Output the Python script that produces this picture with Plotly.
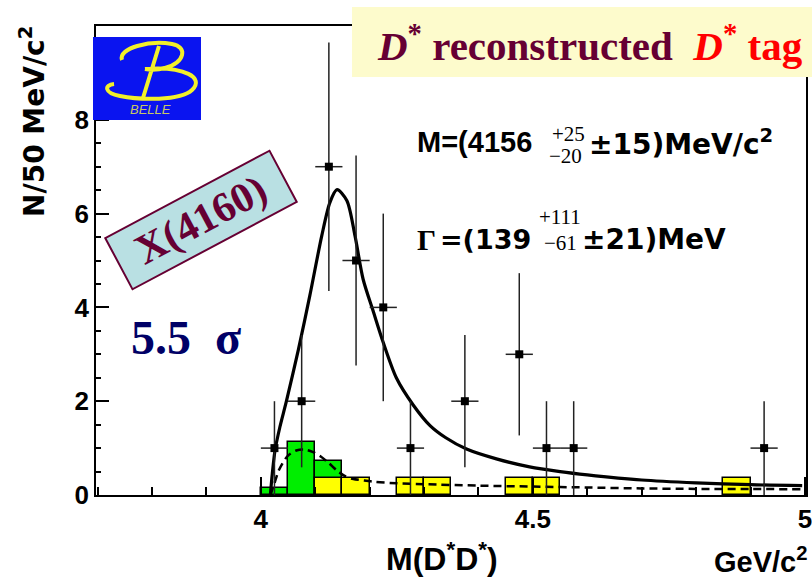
import plotly.graph_objects as go

# ---- measured D*D* invariant mass spectrum (GeV/c^2) ----
bin_centers = [4.025, 4.075, 4.125, 4.175, 4.225, 4.275, 4.375, 4.475, 4.525, 4.575, 4.925]
counts = [1, 2, 7, 5, 4, 1, 2, 3, 1, 1, 1]
count_errors = [1.0, 1.41, 2.65, 2.24, 2.0, 1.0, 1.41, 1.73, 1.0, 1.0, 1.0]
bin_half_width = 0.025

# ---- background histograms ----
green_centers = [4.025, 4.075, 4.125]
green_heights = [0.15, 1.14, 0.72]
yellow_centers = [4.125, 4.175, 4.275, 4.325, 4.475, 4.525, 4.875]
yellow_heights = [0.36, 0.36, 0.36, 0.36, 0.36, 0.36, 0.36]
bin_width = 0.05

# ---- fit result (signal + background) ----
fit_x = [4.0175, 4.021, 4.026, 4.035, 4.047, 4.069, 4.090, 4.112, 4.127, 4.140,
         4.158, 4.173, 4.188, 4.207, 4.225, 4.249, 4.280, 4.311, 4.340, 4.378,
         4.433, 4.494, 4.550, 4.600, 4.700, 4.800, 4.900, 4.995]
fit_y = [0.0, 0.45, 0.95, 1.45, 2.0, 3.1, 4.25, 5.53, 6.24, 6.51,
         6.28, 5.53, 4.60, 3.90, 3.25, 2.50, 1.92, 1.48, 1.22, 0.98,
         0.77, 0.60, 0.50, 0.43, 0.32, 0.26, 0.22, 0.20]

# ---- background component of the fit ----
bkg_x = [4.0175, 4.025, 4.032, 4.040, 4.050, 4.065, 4.080, 4.095, 4.110, 4.125,
         4.140, 4.155, 4.170, 4.190, 4.210, 4.250, 4.300, 4.400, 4.500, 4.600,
         4.700, 4.800, 4.900, 4.995]
bkg_y = [0.0, 0.25, 0.50, 0.68, 0.84, 0.95, 0.97, 0.92, 0.82, 0.68,
         0.52, 0.40, 0.34, 0.31, 0.28, 0.25, 0.23, 0.20, 0.18, 0.16,
         0.14, 0.13, 0.13, 0.12]

x_ticks = [4, 4.5, 5]
x_tick_text = ["4", "4.5", "5"]
y_ticks = [0, 2, 4, 6, 8]
y_tick_text = ["0", "2", "4", "6", "8"]

# plot area in pixels
W, H = 812, 578
L, R, T, B = 96, 806, 26, 495


def px(x):
    return (x - L) / (R - L)


def py(y):
    return (B - y) / (B - T)


SANS = "Liberation Sans, Arial, sans-serif"
WIDE = "DejaVu Sans, Verdana, sans-serif"
SERIF = "Liberation Serif, Times New Roman, serif"
MAROON = "#660033"

fig = go.Figure()

fig.add_trace(go.Bar(
    x=green_centers, y=green_heights, width=bin_width,
    marker=dict(color="#00ee00", line=dict(color="black", width=1.5)),
    hoverinfo="skip"))
fig.add_trace(go.Bar(
    x=yellow_centers, y=yellow_heights, width=bin_width,
    marker=dict(color="#ffff00", line=dict(color="black", width=1.5)),
    hoverinfo="skip"))

fig.add_trace(go.Scatter(
    x=bkg_x, y=bkg_y, mode="lines",
    line=dict(color="black", width=2.5, dash="8px,5px", shape="spline", smoothing=0.8)))
fig.add_trace(go.Scatter(
    x=fit_x, y=fit_y, mode="lines",
    line=dict(color="black", width=3.2, shape="spline", smoothing=0.8)))

fig.add_trace(go.Scatter(
    x=bin_centers, y=counts, mode="markers",
    marker=dict(symbol="square", size=8, color="black"),
    error_y=dict(type="data", array=count_errors, color="#222222", thickness=1.5, width=0),
    error_x=dict(type="constant", value=bin_half_width, color="#222222", thickness=1.5, width=0)))

annotations = []


def label(text, x, y, size, family, color="black", xanchor="left", weight=700, **kw):
    annotations.append(dict(
        text=text, x=px(x), y=py(y), xref="paper", yref="paper",
        xanchor=xanchor, yanchor="middle", showarrow=False,
        font=dict(family=family, size=size, color=color, weight=weight), **kw))


# fit parameters
label("M=(4156", 415, 142, 29, SANS)
label("+25", 550, 134, 21, SERIF, weight=400)
label("\u221220", 547, 156, 21, SERIF, weight=400)
label("\u00b115)MeV/c<sup>2</sup>", 587, 142, 28, WIDE)
label("\u0393", 415, 239, 30, SERIF)
label("=(139", 438, 239, 27, WIDE)
label("+111", 537, 217, 21, SERIF, weight=400)
label("\u221261", 542, 243, 21, SERIF, weight=400)
label("\u00b121)MeV", 580, 239, 28, WIDE)

# significance
label("5.5\u00a0\u00a0\u03c3", 129, 337, 48, SERIF, color="#000066")

# rotated state label
annotations.append(dict(
    text="X(4160)", x=px(201), y=py(220), xref="paper", yref="paper",
    xanchor="center", yanchor="middle", showarrow=False, textangle=-28,
    width=184, height=56, borderpad=0, borderwidth=2,
    bordercolor=MAROON, bgcolor="#b9e0e3",
    font=dict(family=SERIF, size=42, color=MAROON, weight=700, style="normal")))

# title banner
label("<i>D</i><sup>*</sup> reconstructed \u00a0<span style='color:#ff0000'><i>D</i><sup>*</sup> tag</span>",
      375, 43, 41, SERIF, color=MAROON)

# Belle logo caption
label("<i>BELLE</i>", 150, 110, 13, SANS, color="#c8c864", xanchor="center", weight=400)

# axis titles
annotations.append(dict(
    text="N/50 MeV/c<sup>2</sup>", x=px(32), y=py(122), xref="paper", yref="paper",
    xanchor="center", yanchor="middle", showarrow=False, textangle=-90,
    font=dict(family=WIDE, size=28, color="black", weight=700)))
label("M(D<sup>*</sup>D<sup>*</sup>)", 442, 557, 32, SANS, xanchor="center")
label("GeV/c<sup>2</sup>", 810, 560, 29, SANS, xanchor="right")


def pixel_path(parts):
    """Build an SVG path in paper coordinates from (command, [(x, y), ...]) pixel pieces."""
    out = []
    for cmd, pts in parts:
        out.append(cmd + " " + " ".join(f"{px(x):.4f},{py(y):.4f}" for x, y in pts))
    return " ".join(out)


belle_b = pixel_path([
    ("M", [(122, 60)]),
    ("C", [(118, 48), (150, 40), (172, 44)]),
    ("C", [(188, 47), (185, 62), (165, 68)]),
    ("C", [(158, 70), (150, 70), (145, 69)]),
    ("M", [(145, 69)]),
    ("C", [(185, 66), (205, 78), (192, 90)]),
    ("C", [(180, 101), (140, 100), (120, 96)]),
    ("C", [(104, 93), (104, 85), (114, 84)]),
    ("M", [(159, 46)]),
    ("L", [(143, 98)]),
])

shapes = [
    dict(type="rect", xref="paper", yref="paper",
         x0=px(93), x1=px(201), y0=py(120), y1=py(37),
         fillcolor="#0a14f0", line=dict(width=0), layer="above"),
    dict(type="path", xref="paper", yref="paper", path=belle_b,
         line=dict(color="#f2f02a", width=4), layer="above"),
    dict(type="rect", xref="paper", yref="paper",
         x0=px(352), x1=px(813), y0=py(77), y1=py(7),
         fillcolor="#fdfbcc", line=dict(width=0), layer="above"),
]

fig.update_layout(
    width=W, height=H,
    margin=dict(l=L, r=W - R, t=T, b=H - B),
    paper_bgcolor="white", plot_bgcolor="white",
    showlegend=False, barmode="overlay", bargap=0,
    annotations=annotations, shapes=shapes,
    xaxis=dict(
        range=[3.697, 5.002], tickmode="array", tickvals=x_ticks, ticktext=x_tick_text,
        ticks="inside", ticklen=18, tickwidth=1.5, tickcolor="black",
        minor=dict(dtick=0.1, tick0=4, ticks="inside", ticklen=8, tickwidth=1.5, tickcolor="black"),
        showline=True, linecolor="black", linewidth=1.5, mirror=True,
        showgrid=False, zeroline=False, automargin=False,
        ticklabeloverflow="allow",
        tickfont=dict(family=SANS, size=26, color="black", weight=700)),
    yaxis=dict(
        range=[0, 10], tickmode="array", tickvals=y_ticks, ticktext=y_tick_text,
        ticks="inside", ticklen=13, tickwidth=1.5, tickcolor="black",
        minor=dict(dtick=0.5, tick0=0, ticks="inside", ticklen=5, tickwidth=1.5, tickcolor="black"),
        showline=True, linecolor="black", linewidth=1.5, mirror=True,
        showgrid=False, zeroline=False, automargin=False,
        tickfont=dict(family=SANS, size=26, color="black", weight=700)),
)

fig.write_html("out.html")
